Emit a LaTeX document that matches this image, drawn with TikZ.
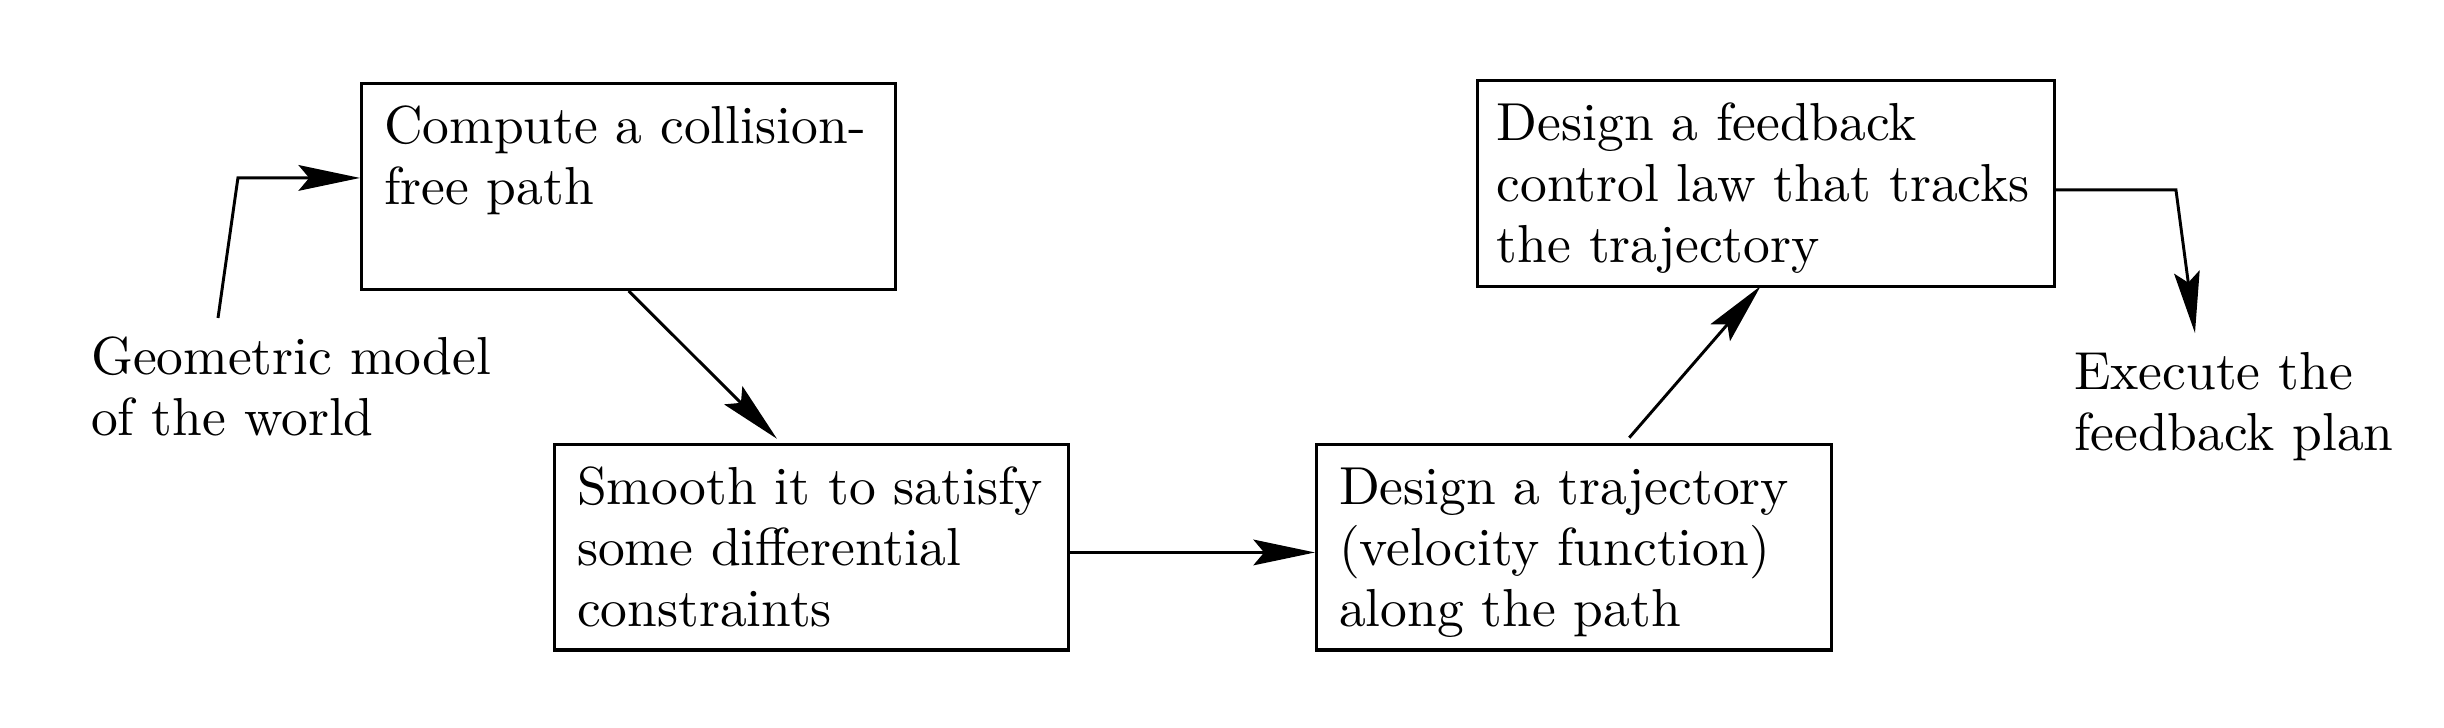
\documentclass[tikz,border=0pt]{standalone}
\usetikzlibrary{arrows.meta}
\begin{document}
\begin{tikzpicture}[x=1cm,y=1cm,>={Stealth[length=11.5pt,width=4.8pt,inset=2pt]},
		font=\fontsize{10}{11.4}\selectfont,
		stepbox/.style={draw,line width=0.6pt,inner sep=4.2pt,align=left,text height=7pt,text depth=23.1pt,anchor=north west},
		note/.style={inner sep=0pt,align=left,anchor=base west},
		link/.style={->,line width=0.55pt}]
	\useasboundingbox (0,0) rectangle (16.055,-4.782);
	% the four steps
	\node[stepbox,text width=91.4pt] (path) at (2.365,-0.537) {Compute a collision-\\free path};
	\node[stepbox,text width=87.7pt] (smooth) at (3.633,-2.907) {Smooth it to satisfy\\some differential\\constraints};
	\node[stepbox,text width=87.9pt] (traj) at (8.638,-2.907) {Design a trajectory\\(velocity function)\\along the path};
	\node[stepbox,text width=100.6pt,inner xsep=3.6pt] (law) at (9.696,-0.519) {Design a feedback\\control law that tracks\\the trajectory};
	\node[note,text width=80pt] (model) at (0.591,-2.463) {Geometric model\\of the world};
	\node[note,text width=64pt] (exec) at (13.618,-2.562) {Execute the\\feedback plan};
	\coordinate (startL) at (1.432,-2.089);
	\coordinate (bendL) at (1.563,-1.169);
	\coordinate (bendR) at (14.294,-1.248);
	\coordinate (endR) at (14.419,-2.188);
	\draw[link] (startL) -- (bendL) -- (path.west |- bendL);
	\draw[link] (path.south) -- ([xshift=-6.5pt,yshift=0.7pt]smooth.north);
	\draw[link] ([yshift=-1pt]smooth.east) -- ([yshift=-1pt]traj.west);
	\draw[link] ([xshift=10.3pt,yshift=0.9pt]traj.north) -- ([xshift=-1pt,yshift=0.4pt]law.south);
	\draw[link] (law.east |- bendR) -- (bendR) -- (endR);
\end{tikzpicture}
\end{document}
